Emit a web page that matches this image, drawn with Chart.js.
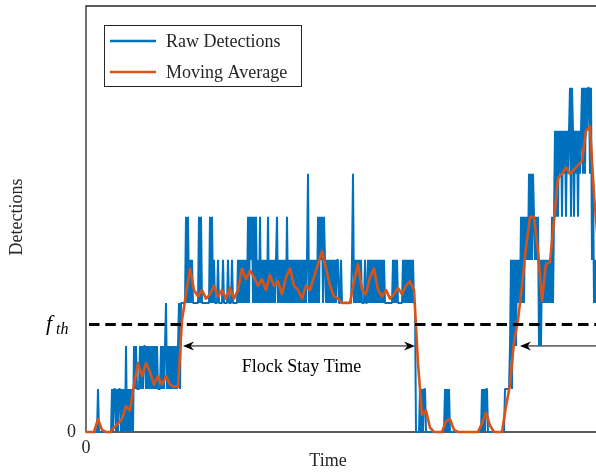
<!DOCTYPE html>
<html><head><meta charset="utf-8">
<script src="https://cdn.jsdelivr.net/npm/chart.js@4.4.1/dist/chart.umd.min.js"></script>
<style>html,body{margin:0;padding:0;background:#fff;overflow:hidden}#wrap{position:relative;width:596px;height:474px}</style>
</head><body><div id="wrap"><canvas id="c" width="596" height="474"></canvas></div>
<script>
// raw detections, one value per time unit (t = 0..510)
const rawDetections = [
0,0,0,0,0,0,0,0,0,0,0,0,
1,
0,0,0,0,0,0,0,0,0,0,0,0,0,
1,0,1,1,0,1,0,1,1,0,1,0,1,0,2,0,1,0,1,0,1,0,
2,1,2,1,1,1,2,1,2,1, 2,2,1,2,1,2,1,2,1,2, 1,2,1,2,1,1,1,2,1,2, 1,2,3,1,2,1,2,1,2,1, 2,1,2,1,2,
3,1,3,
3,3,3,3,5,3,5,3,4,3, 4,3,3,3,3,3,3,5,3,5, 3,3,3,3,3,3,3,3,5,3, 5,3,4,3,3,3,4,3,3,3, 3,4,3,3,3,3,4,3,3,3, 4,3,3,3,3,3,
4,3,4,3,4,3,4,3,4,3, 5,3,5,4,5,3,5,3,5,3, 4,3,5,3,4,3,4,3,4,3, 5,3,4,3,4,3,4,3,4,5, 3,4,3,4,3,4,3,4,3,5,
3,4,3,4,3,4,3,4,3,4, 3,4,3,4,3,4,3,4,3,4, 6,3,4,3,4,3,4,3,4,3, 5,3,5,4,5,3,5,4,3,4, 3,4,3,4,3,4,3,4,3,4,
4,3,3,4,3,3,3,3,3,3,3,3,3,3,
4,6,3,4,3,4,3,4,3,4, 3,3,3,4,3,3,4,3,4,3, 4,3,4,3,4,3,4,3,4,3, 4,3,4,3,3,3,3,3,3,3, 3,4,3,4,3,4,3,3,3,3, 3,4,3,4,3,4,3,4,3,4, 3,4,3,
3,0,
0,0,0,1,0,1,0,1,1,0,
0,0,0,0,0,0,0,0,0,0,0,0,0,0,0,0,0,0,
1,0,1,0,1,0,
0,0,0,0,0,0,0,0,0,0,0,0,0,0,0,0,0,0,0,0,0,0,0,0,0,0,0,0,0,0,0,
1,0,1,0,1,1,0,
0,0,0,0,0,0,0,0,0,0,0,0,0,0,0,0,
1,1,1,1,1,2,4,1,4,2, 4,2,4,3,4,3,5,3,5,3, 5,4,5,4,6,4,6,4,6,5, 4,5,4,5,2,4,2,4,3,4, 3,4,3,4,3,4,3,5,3,5,
7,5,7,5,7,6,7,5,7,6, 7,5,7,6,7,8,5,8,7,5, 7,6,7,5,7,6,7,8,6,8, 6,8,7,8,8,6,8,4,6,3, 4,3
];
// moving average, one value every avgStep time units
const avgStep = 4;
const movingAverage = [
0,0,0,0.3,0.05,0,0,0.1,0.2,0.3,0.6,0.5,1.1,
1.6,1.3,1.6,1.4,1.1,1.3,1.1,1.3,1.1,1.05,1.05,
2.6,3.2,3.8,3.3,3.15,3.3,3.1,3.2,3.4,3.15,3.3,3.1,3.35,3.1,3.3,3.8,3.55,3.75,3.6,3.4,3.55,3.3,3.65,3.4,3.5,3.2,
3.6,3.8,3.4,3.3,3.1,3.4,3.3,3.6,3.9,4.2,3.8,3.4,3.15,3.1,3.0,3.0,3.0,3.5,3.9,3.3,3.2,3.6,3.8,3.3,3.15,3.3,3.1,3.2,3.35,3.2,3.4,3.5,3.3,
1.6,0.4,0.5,0.1,0,0,0,0.25,0.3,0.05,0,0,0,0,0,0,0.2,0.45,0.15,0,0,0,
0.6,1.1,2.1,2.6,3.4,4.3,5.0,5.0,4.2,3.05,3.9,3.95,4.9,5.9,6.0,6.15,6.0,6.1,6.2,6.3,7.0,7.1,5.5,4.4
];
const seriesNames = ['Raw Detections','Moving Average'];
const thresholdLevel = 2.5;
const arrowLevel = 2;
const stayArrows = [[97,329],[434,540]];
const stayLabel = 'Flock Stay Time';
const stayLabelPos = [215.5,1.5];
const yTickLabels = ['0'];
const xTickLabels = ['0'];
const xTitle = 'Time';
const yTitle = 'Detections';

const BLUE='#0072BD', ORANGE='#D95319', AX='#262626';
const SERIF='"Liberation Serif","Times New Roman",serif';

const rawPts = rawDetections.map((v,i)=>({x:i,y:v}));
const avgPts = movingAverage.map((v,i)=>({x:i*avgStep,y:v}));

function head(ctx,x,y,dir){
  ctx.beginPath();
  ctx.moveTo(x,y);
  ctx.lineTo(x-dir*11,y-4.5);
  ctx.lineTo(x-dir*7.5,y);
  ctx.lineTo(x-dir*11,y+4.5);
  ctx.closePath();ctx.fill();
}

const overlay={
  id:'overlay',
  beforeDatasetsDraw(chart){
    const {ctx,chartArea:a,scales:{x,y}}=chart;
    ctx.save();
    ctx.strokeStyle=AX;ctx.lineWidth=1.3;
    ctx.beginPath();
    ctx.moveTo(a.right+5,a.top);ctx.lineTo(a.left,a.top);ctx.lineTo(a.left,a.bottom);ctx.lineTo(a.right+5,a.bottom);
    ctx.stroke();
    const ay=y.getPixelForValue(arrowLevel);
    ctx.strokeStyle='#000';ctx.fillStyle='#000';ctx.lineWidth=1;
    stayArrows.forEach(([t1,t2])=>{
      const x1=x.getPixelForValue(t1),x2=x.getPixelForValue(t2);
      ctx.beginPath();ctx.moveTo(x1+6,ay);ctx.lineTo(x2-6,ay);ctx.stroke();
      head(ctx,x1,ay,-1);head(ctx,x2,ay,1);
    });
    ctx.font='18px '+SERIF;ctx.textAlign='center';ctx.textBaseline='middle';
    ctx.fillStyle='#000';
    ctx.fillText(stayLabel,x.getPixelForValue(stayLabelPos[0]),y.getPixelForValue(stayLabelPos[1]));
    ctx.restore();
  },
  afterDatasetsDraw(chart){
    const {ctx,chartArea:a,scales:{x,y}}=chart;
    ctx.save();
    const ty=y.getPixelForValue(thresholdLevel);
    ctx.strokeStyle='#000';ctx.lineWidth=3;ctx.setLineDash([10.5,5.8]);ctx.lineDashOffset=-3;
    ctx.beginPath();ctx.moveTo(a.left,ty);ctx.lineTo(a.right+5,ty);ctx.stroke();
    ctx.setLineDash([]);
    ctx.fillStyle='#fff';ctx.fillRect(104,25,198,62);
    ctx.strokeStyle=AX;ctx.lineWidth=1;ctx.strokeRect(104.5,25.5,197,61);
    const cols=[BLUE,ORANGE],ys=[41,72];
    ctx.font='18px '+SERIF;ctx.textAlign='left';ctx.textBaseline='middle';
    seriesNames.forEach((n,i)=>{
      ctx.strokeStyle=cols[i];ctx.lineWidth=2.5;
      ctx.beginPath();ctx.moveTo(110,ys[i]);ctx.lineTo(156,ys[i]);ctx.stroke();
      ctx.fillStyle=AX;ctx.fillText(n,166,ys[i]+1);
    });
    ctx.fillStyle=AX;
    ctx.textAlign='right';ctx.fillText(yTickLabels[0],76,y.getPixelForValue(0));
    ctx.textAlign='center';ctx.fillText(xTickLabels[0],x.getPixelForValue(0),448);
    ctx.textAlign='left';ctx.textBaseline='alphabetic';ctx.fillStyle='#000';
    ctx.font='italic 22px '+SERIF;ctx.fillText('f',46,ty+6);
    ctx.font='italic 16px '+SERIF;ctx.fillText('th',56,ty+10);
    ctx.fillStyle=AX;ctx.font='18px '+SERIF;ctx.textAlign='center';ctx.textBaseline='middle';
    ctx.fillText(xTitle,328,461);
    ctx.translate(17,217);ctx.rotate(-Math.PI/2);ctx.fillText(yTitle,0,0);
    ctx.restore();
  }
};

new Chart(document.getElementById('c'),{
  type:'line',
  data:{datasets:[
    {label:seriesNames[0],data:rawPts,borderColor:BLUE,borderWidth:2,pointRadius:0,tension:0,borderJoinStyle:'bevel',order:2,clip:false},
    {label:seriesNames[1],data:avgPts,borderColor:ORANGE,borderWidth:2.6,pointRadius:0,tension:0,borderJoinStyle:'round',order:1,clip:false}
  ]},
  options:{
    responsive:false,animation:false,devicePixelRatio:1,
    layout:{padding:{left:86,top:6,right:0,bottom:42}},
    scales:{
      x:{type:'linear',min:0,max:510,display:false},
      y:{type:'linear',min:0,max:9.9,display:false}
    },
    plugins:{legend:{display:false},tooltip:{enabled:false}}
  },
  plugins:[overlay]
});
</script></body></html>
